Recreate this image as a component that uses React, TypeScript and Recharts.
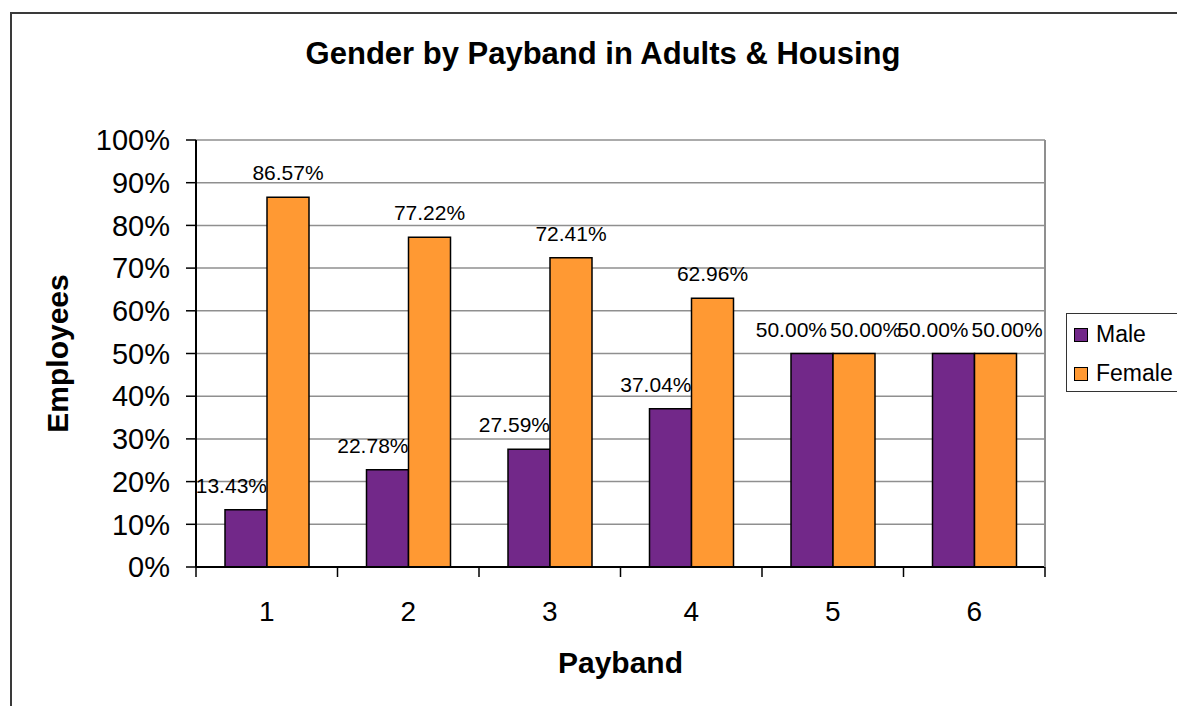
import React from 'react';
import { BarChart, Bar, XAxis, YAxis, CartesianGrid, Legend, LabelList, Label } from 'recharts';

const CATEGORIES = ['1', '2', '3', '4', '5', '6'];
const SERIES = ['Male', 'Female'];
const MALE = [13.43, 22.78, 27.59, 37.04, 50.0, 50.0];
const FEMALE = [86.57, 77.22, 72.41, 62.96, 50.0, 50.0];
const Y_TICKS = [0, 10, 20, 30, 40, 50, 60, 70, 80, 90, 100];

const W = 1177;
const H = 706;
const PLOT_LEFT = 196;
const PLOT_RIGHT = 1045;
const PLOT_TOP = 140;
const PLOT_BOTTOM = 567;
const PLOT_W = PLOT_RIGHT - PLOT_LEFT;

const FONT = '"Liberation Sans", Arial, sans-serif';
const PURPLE = '#722889';
const ORANGE = '#FF9933';
const GRID = '#8f8f8f';

const data = CATEGORIES.map((band, i) => ({ band, Male: MALE[i], Female: FEMALE[i] }));

const fmt = (v: any) => `${Number(v).toFixed(2)}%`;

// excel style: tick marks sit between the categories, labels in the middle
function PaybandTick({ x, y, payload, index }: any) {
  const half = PLOT_W / CATEGORIES.length / 2;
  return (
    <g>
      <line x1={x - half} x2={x - half} y1={y} y2={y + 10} stroke="#000" strokeWidth={1.5} />
      {index === CATEGORIES.length - 1 && (
        <line x1={x + half} x2={x + half} y1={y} y2={y + 10} stroke="#000" strokeWidth={1.5} />
      )}
      <text x={x} y={y + 54} textAnchor="middle" fontSize={28} fill="#000" fontFamily={FONT}>
        {payload.value}
      </text>
    </g>
  );
}

// data labels, nudged sideways like excel does when they would collide
function MaleLabel({ x, y, width, value, index }: any) {
  const other = FEMALE[index];
  let tx = x + width / 2;
  let anchor: 'middle' | 'end' | 'start' = 'middle';
  if (other === value) {
    tx = x + width - 6;
    anchor = 'end';
  } else if (other > value) {
    tx = x + width;
    anchor = 'end';
  }
  return (
    <text x={tx} y={y - 17} textAnchor={anchor} fontSize={21} fill="#000" fontFamily={FONT}>
      {fmt(value)}
    </text>
  );
}

function FemaleLabel({ x, y, width, value, index }: any) {
  const other = MALE[index];
  let tx = x + width / 2;
  let anchor: 'middle' | 'start' = 'middle';
  if (other === value) {
    tx = x - 3;
    anchor = 'start';
  }
  return (
    <text x={tx} y={y - 17} textAnchor={anchor} fontSize={21} fill="#000" fontFamily={FONT}>
      {fmt(value)}
    </text>
  );
}

function EmployeesLabel({ viewBox }: any) {
  const cx = viewBox.x + 57;
  const cy = viewBox.y + viewBox.height / 2;
  return (
    <text
      x={cx}
      y={cy}
      transform={`rotate(-90, ${cx}, ${cy})`}
      textAnchor="middle"
      dominantBaseline="central"
      fontSize={30}
      fontWeight="bold"
      fill="#000"
      fontFamily={FONT}
    >
      Employees
    </text>
  );
}

function LegendBox({ payload }: any) {
  const items = [...(payload || [])].sort(
    (a: any, b: any) => SERIES.indexOf(a.value) - SERIES.indexOf(b.value)
  );
  return (
    <div
      style={{
        border: '1.5px solid #333',
        background: '#fff',
        padding: '1px 0 0 7px',
        width: 130,
        height: 76,
        boxSizing: 'content-box',
        fontFamily: FONT,
      }}
    >
      {items.map((entry: any) => (
        <div key={entry.value} style={{ display: 'flex', alignItems: 'center', height: 39 }}>
          <span
            style={{
              display: 'inline-block',
              width: 12,
              height: 12,
              background: entry.color,
              border: '1.5px solid #000',
              marginRight: 8,
            }}
          />
          <span style={{ fontSize: 23, color: '#000' }}>{entry.value}</span>
        </div>
      ))}
    </div>
  );
}

export default function App() {
  return (
    <div
      style={{
        position: 'fixed',
        left: 0,
        top: 0,
        width: W,
        height: H,
        overflow: 'hidden',
        background: '#fff',
        fontFamily: FONT,
      }}
    >
      <div
        style={{
          position: 'absolute',
          left: 10,
          top: 12,
          width: 1220,
          height: 760,
          border: '2px solid #3a3a3a',
        }}
      />
      <div
        style={{
          position: 'absolute',
          left: 0,
          top: 38,
          width: 1206,
          textAlign: 'center',
          fontSize: 31,
          lineHeight: '31px',
          fontWeight: 'bold',
          color: '#000',
        }}
      >
        Gender by Payband in Adults &amp; Housing
      </div>
      <div style={{ position: 'absolute', left: 0, top: 0 }}>
        <BarChart
          width={W}
          height={H}
          data={data}
          margin={{ top: PLOT_TOP, right: 0, bottom: 0, left: 0 }}
          barCategoryGap={29}
          barGap={0}
        >
          <CartesianGrid vertical={false} stroke={GRID} strokeWidth={1.5} />
          <XAxis
            dataKey="band"
            height={H - PLOT_BOTTOM}
            axisLine={{ stroke: '#000', strokeWidth: 2 }}
            tickLine={false}
            tickSize={0}
            tickMargin={0}
            tick={<PaybandTick />}
            interval={0}
          >
            <Label
              value="Payband"
              position="insideBottom"
              offset={33}
              fontSize={30}
              fontWeight="bold"
              fill="#000"
              fontFamily={FONT}
            />
          </XAxis>
          <YAxis
            width={PLOT_LEFT}
            domain={[0, 100]}
            ticks={Y_TICKS}
            interval={0}
            tickFormatter={(v) => `${v}%`}
            axisLine={{ stroke: '#000', strokeWidth: 2 }}
            tickLine={{ stroke: '#000', strokeWidth: 1.5 }}
            tickSize={10}
            tickMargin={16}
            tick={{ fontSize: 29, fill: '#000', fontFamily: FONT }}
          >
            <Label content={<EmployeesLabel />} />
          </YAxis>
          <YAxis
            yAxisId="frame"
            orientation="right"
            width={W - PLOT_RIGHT}
            domain={[0, 100]}
            tick={false}
            tickLine={false}
            axisLine={{ stroke: GRID, strokeWidth: 2 }}
          />
          <Legend
            layout="vertical"
            align="center"
            verticalAlign="middle"
            content={<LegendBox />}
            wrapperStyle={{ left: 1066, top: 313, width: 140, height: 80 }}
          />
          <Bar dataKey="Male" fill={PURPLE} stroke="#000" strokeWidth={1.5} isAnimationActive={false}>
            <LabelList dataKey="Male" content={<MaleLabel />} />
          </Bar>
          <Bar dataKey="Female" fill={ORANGE} stroke="#000" strokeWidth={1.5} isAnimationActive={false}>
            <LabelList dataKey="Female" content={<FemaleLabel />} />
          </Bar>
        </BarChart>
      </div>
    </div>
  );
}
